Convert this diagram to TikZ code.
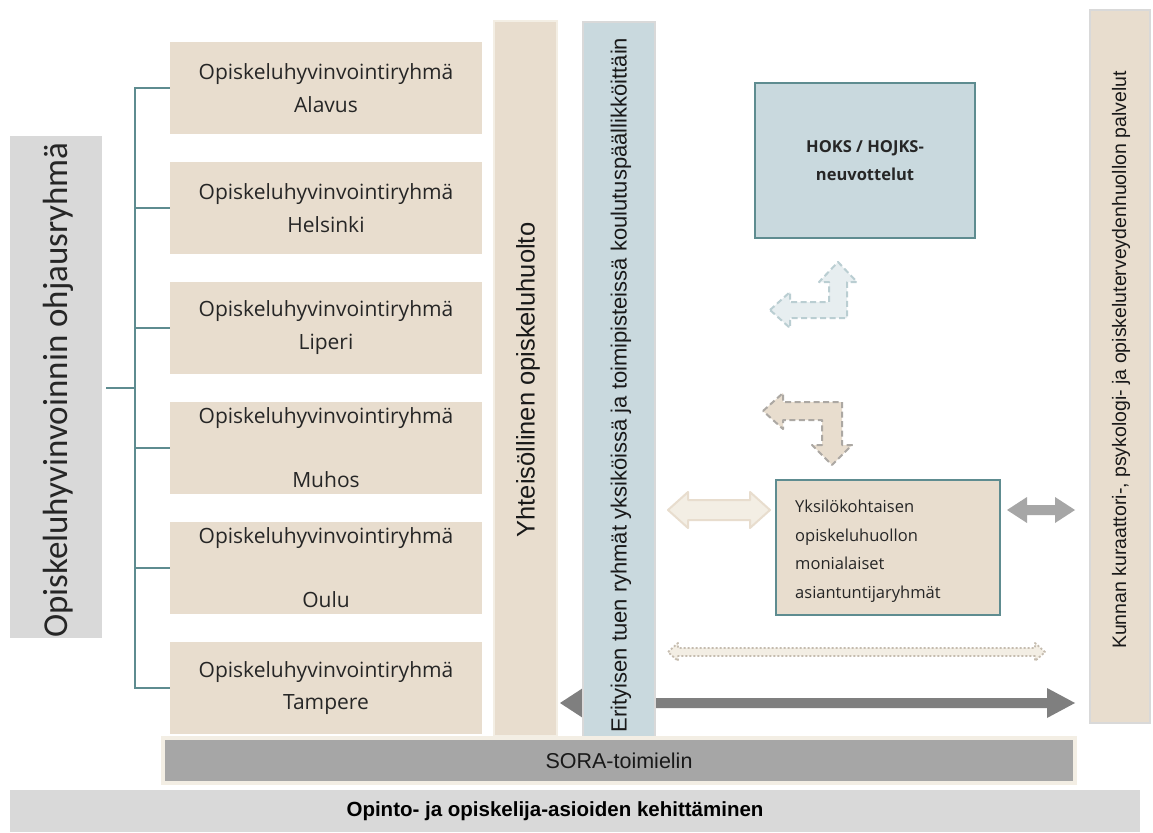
\documentclass[tikz,border=0pt]{standalone}
\usepackage{fontspec}
\setmainfont{Liberation Sans}
\newfontfamily\grpfont{Open Sans}
\newfontfamily\calfont{Carlito}
\definecolor{beige}{HTML}{E8DDCE}
\definecolor{lightbeige}{HTML}{F3EEE4}
\definecolor{greyl}{HTML}{D9D9D9}
\definecolor{teal}{HTML}{5E8C90}
\definecolor{bluec}{HTML}{C9D9DE}
\definecolor{sora}{HTML}{A6A6A6}
\definecolor{darkar}{HTML}{7F7F7F}
\tikzset{
  grp/.style={fill=beige, minimum width=312pt, minimum height=92pt, inner sep=0pt, align=center, font=\grpfont\fontsize{21}{24}\selectfont, text=black!85},
  br/.style={draw=teal, line width=1.6pt},
  col/.style={inner sep=0pt},
  vtext/.style={rotate=90, inner sep=0pt},
}
\begin{document}
\begin{tikzpicture}[x=1pt,y=-1pt]
\useasboundingbox (0,0) rectangle (1153,832);
\fill[white] (0,0) rectangle (1153,832);

% left grey box
\node[col, fill=greyl, minimum width=92pt, minimum height=502pt] (ohj) at (56,387) {};
\node[vtext, font=\calfont\fontsize{35}{38}\selectfont, text=black!85] (ohjt) at (58,390) {Opiskeluhyvinvoinnin ohjausryhmä};

% group boxes
\node[grp] (g1) at (326,88) {Opiskeluhyvinvointiryhmä\\[9pt]Alavus};
\node[grp] (g2) at (326,208) {Opiskeluhyvinvointiryhmä\\[9pt]Helsinki};
\node[grp] (g3) at (326,328) {Opiskeluhyvinvointiryhmä\\[9pt]Liperi};
\node[grp] (g4) at (326,448) {Opiskeluhyvinvointiryhmä\\[40pt]Muhos};
\node[grp] (g5) at (326,568) {Opiskeluhyvinvointiryhmä\\[40pt]Oulu};
\node[grp] (g6) at (326,688) {Opiskeluhyvinvointiryhmä\\[8pt]Tampere};

% bracket
\coordinate (bx) at (135,0);
\draw[br] (g1.west) -- (g1.west -| bx) -- (g6.west -| bx) -- (g6.west);
\foreach \g in {g2,g3,g4,g5} { \draw[br] (\g.west) -- (\g.west -| bx); }
\draw[br, shorten <=4pt] (ohj.east |- 0,388) -- (bx |- 0,388);

% Yhteisöllinen column
\node[col, fill=beige, draw=lightbeige, line width=2.5pt, minimum width=63pt, minimum height=715pt] (yht) at (525.5,378.5) {};
\node[vtext, font=\fontsize{25.5}{28}\selectfont, text=black!90] (yhtt) at (528,380) {Yhteisöllinen opiskeluhuolto};

% dark arrow (behind blue column)
\fill[darkar] (560,703) -- (583,688) -- (583,698) -- (1047,698) -- (1047,688) -- (1075,703) -- (1047,718) -- (1047,708) -- (583,708) -- (583,718) -- cycle;

% blue column
\node[col, fill=bluec, draw=greyl, line width=2pt, minimum width=72pt, minimum height=715pt] (eri) at (619,379.5) {};
\node[vtext, font=\fontsize{22}{26}\selectfont, text=black!90] (erit) at (621,385) {Erityisen tuen ryhmät yksiköissä ja toimipisteissä koulutuspäällikköittäin};

% right column
\node[col, fill=beige, draw=greyl, line width=2pt, minimum width=60pt, minimum height=713pt] (kun) at (1120,366.5) {};
\node[vtext, font=\fontsize{19.5}{22}\selectfont, text=black!90] (kunt) at (1121,360) {Kunnan kuraattori-, psykologi- ja opiskeluterveydenhuollon palvelut};

% HOKS box
\node[col, fill=bluec, draw=teal, line width=2pt, minimum width=220pt, minimum height=155pt, align=center, font=\grpfont\bfseries\fontsize{16.5}{28}\selectfont, text=black!85] (hoks) at (865,160.5) {HOKS / HOJKS-\\neuvottelut};

% Yksilökohtaisen box
\node[col, fill=beige, draw=teal, line width=2pt, minimum width=224pt, minimum height=135pt] (yks) at (888,547.5) {};
\node[anchor=west, inner sep=0pt, align=left, font=\grpfont\fontsize{16.5}{28.5}\selectfont, text=black!85] (ykst) at (795,551) {Yksilökohtaisen\\opiskeluhuollon\\monialaiset\\asiantuntijaryhmät};

% blue dashed elbow arrow
\filldraw[fill=bluec!45, draw=bluec!70!teal!80, dash pattern=on 6pt off 3.5pt, line width=2pt, line join=round]
 (770,310) -- (790,292) -- (790,302) -- (829,302) -- (829,282) -- (819,282) -- (838,262) -- (857,282) -- (847,282) -- (847,318) -- (790,318) -- (790,328) -- cycle;

% beige dashed elbow arrow
\filldraw[fill=beige, draw=beige!55!black!65, dash pattern=on 6pt off 3.5pt, line width=2pt, line join=round]
 (763,411) -- (783,393) -- (783,402) -- (842,402) -- (842,445) -- (852,445) -- (832,465) -- (812,445) -- (822,445) -- (822,420) -- (783,420) -- (783,429) -- cycle;

% light beige double arrow
\filldraw[fill=lightbeige, draw=beige, line width=2pt, line join=round]
 (668,510) -- (688,492) -- (688,500) -- (750,500) -- (750,492) -- (770,510) -- (750,528) -- (750,520) -- (688,520) -- (688,528) -- cycle;

% grey double arrow
\fill[sora] (1007,510) -- (1027,497) -- (1027,505) -- (1055,505) -- (1055,497) -- (1075,510) -- (1055,523) -- (1055,515) -- (1027,515) -- (1027,523) -- cycle;

% dotted arrow
\filldraw[fill=lightbeige, draw=beige!85!black, dash pattern=on 2pt off 2pt, line width=1.8pt, line join=round]
 (668,652) -- (678,643) -- (678,648) -- (1035,648) -- (1035,643) -- (1045,652) -- (1035,661) -- (1035,656) -- (678,656) -- (678,661) -- cycle;

% SORA bar
\node[col, fill=sora, draw=lightbeige, line width=4pt, minimum width=912pt, minimum height=45pt, font=\fontsize{21.5}{24}\selectfont, text=black!90] (sorab) at (619,760.5) {SORA-toimielin};

% bottom bar
\node[col, fill=greyl, minimum width=1130pt, minimum height=42pt, font=\bfseries\fontsize{20.5}{24}\selectfont] (bot) at (575,811) {};
\node[inner sep=0pt, font=\bfseries\fontsize{20.5}{24}\selectfont] (bott) at (555,811) {Opinto- ja opiskelija-asioiden kehittäminen};
\end{tikzpicture}
\end{document}
